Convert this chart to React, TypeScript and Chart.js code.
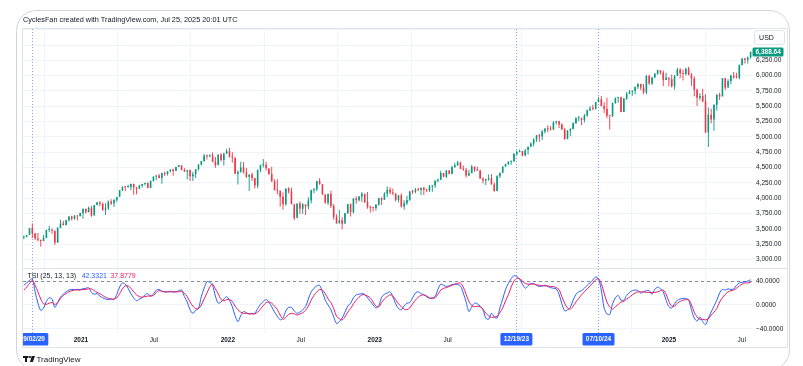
import React, { useEffect, useRef } from 'react';
import { Chart, registerables } from 'chart.js';

Chart.register(...registerables);

const FONT = "'Liberation Sans', Arial, sans-serif";
const GREEN = '#089981';
const RED = '#F23645';
const TSI_BLUE = '#2962FF';
const SIGNAL_RED = '#E91E63';

// Weekly bars, index 0 = week of 2020-08-10 (mid-week 2020-08-12)
const START_DATE = '2020-08-12';
const FIRST_OPEN = 3356;
const LAST_PRICE = 6388.64;
const TSI_LAST = '42.3321';
const SIGNAL_LAST = '37.8779';
const TSI_LEVEL = 40;

const close2020 = [3373, 3397, 3508, 3427, 3341, 3319, 3298, 3348, 3477, 3484, 3465, 3270, 3510, 3585, 3558, 3638, 3699, 3663, 3709, 3703, 3756];
const high2020 = [3387, 3399, 3510, 3588, 3425, 3428, 3320, 3397, 3482, 3549, 3502, 3466, 3529, 3646, 3628, 3644, 3699, 3712, 3726, 3711, 3760];
const low2020 = [3327, 3355, 3400, 3349, 3310, 3293, 3209, 3312, 3350, 3441, 3419, 3233, 3280, 3512, 3555, 3559, 3616, 3633, 3648, 3636, 3703];

const close2021 = [3825, 3768, 3841, 3714, 3887, 3934, 3907, 3811, 3842, 3943, 3913, 3975, 4020, 4129, 4185, 4180, 4181, 4232, 4174, 4156, 4204, 4230, 4247, 4166, 4281, 4352, 4370, 4327, 4412, 4395, 4437, 4468, 4442, 4509, 4535, 4459, 4433, 4455, 4357, 4391, 4471, 4545, 4605, 4697, 4683, 4698, 4595, 4538, 4712, 4621, 4725, 4766];
const high2021 = [3826, 3823, 3861, 3870, 3887, 3937, 3950, 3929, 3914, 3960, 3983, 3978, 4020, 4130, 4191, 4195, 4218, 4238, 4236, 4187, 4219, 4234, 4249, 4257, 4286, 4356, 4372, 4393, 4415, 4429, 4440, 4469, 4480, 4513, 4545, 4535, 4486, 4465, 4466, 4429, 4475, 4559, 4608, 4719, 4708, 4718, 4744, 4672, 4713, 4731, 4740, 4808];
const low2021 = [3663, 3750, 3783, 3694, 3725, 3884, 3865, 3789, 3723, 3805, 3886, 3853, 3935, 4035, 4118, 4118, 4170, 4127, 4056, 4061, 4149, 4168, 4205, 4165, 4164, 4272, 4290, 4325, 4233, 4360, 4368, 4422, 4367, 4452, 4513, 4457, 4427, 4306, 4278, 4278, 4329, 4453, 4537, 4595, 4630, 4672, 4585, 4495, 4540, 4600, 4531, 4733];

const close2022 = [4677, 4663, 4398, 4432, 4501, 4419, 4349, 4385, 4329, 4204, 4463, 4543, 4546, 4488, 4393, 4272, 4132, 4123, 4024, 3901, 4158, 4109, 3901, 3675, 3912, 3825, 3899, 3863, 3962, 4130, 4145, 4280, 4228, 4058, 3924, 4067, 3873, 3693, 3586, 3640, 3583, 3753, 3901, 3771, 3993, 3965, 4026, 4072, 3934, 3852, 3845, 3840];
const high2022 = [4819, 4749, 4632, 4453, 4596, 4590, 4490, 4385, 4417, 4329, 4465, 4546, 4637, 4593, 4471, 4513, 4308, 4307, 4082, 4090, 4158, 4178, 4168, 3838, 3913, 3946, 3919, 3871, 4013, 4140, 4167, 4281, 4325, 4204, 4062, 4077, 4119, 3907, 3736, 3806, 3686, 3762, 3905, 3912, 4001, 4028, 4034, 4101, 4052, 4101, 3876, 3846];
const low2022 = [4662, 4582, 4395, 4223, 4413, 4401, 4328, 4115, 4279, 4157, 4161, 4424, 4501, 4450, 4381, 4267, 4124, 4063, 3859, 3811, 3875, 4074, 3900, 3637, 3715, 3741, 3743, 3722, 3819, 3911, 4079, 4112, 4219, 4058, 3907, 3886, 3838, 3647, 3584, 3636, 3491, 3647, 3741, 3698, 3750, 3906, 3946, 3938, 3918, 3828, 3765, 3783];

const close2023 = [3895, 3999, 3973, 4071, 4136, 4090, 4079, 3970, 4045, 3862, 3917, 3971, 4109, 4105, 4138, 4133, 4169, 4136, 4124, 4192, 4205, 4282, 4299, 4410, 4348, 4450, 4399, 4505, 4536, 4582, 4478, 4464, 4370, 4406, 4516, 4457, 4450, 4320, 4288, 4308, 4327, 4224, 4117, 4358, 4415, 4514, 4559, 4595, 4604, 4719, 4755, 4770];
const high2023 = [3895, 4003, 4015, 4094, 4195, 4176, 4156, 4050, 4048, 4079, 3965, 4040, 4110, 4133, 4164, 4170, 4170, 4186, 4154, 4213, 4213, 4290, 4322, 4448, 4408, 4458, 4456, 4527, 4578, 4607, 4594, 4532, 4491, 4461, 4541, 4514, 4511, 4463, 4338, 4317, 4385, 4393, 4255, 4374, 4415, 4521, 4560, 4598, 4609, 4738, 4778, 4793];
const low2023 = [3794, 3877, 3886, 3973, 4015, 4061, 4048, 3944, 3928, 3847, 3809, 3889, 3951, 4068, 4080, 4113, 4050, 4049, 4099, 4098, 4103, 4166, 4257, 4301, 4341, 4328, 4385, 4389, 4502, 4528, 4474, 4448, 4336, 4356, 4416, 4430, 4447, 4316, 4238, 4216, 4283, 4223, 4104, 4113, 4329, 4412, 4513, 4537, 4546, 4593, 4695, 4751];

const close2024 = [4697, 4784, 4840, 4891, 4959, 5027, 5006, 5089, 5137, 5124, 5117, 5234, 5254, 5204, 5123, 4967, 5100, 5128, 5223, 5303, 5305, 5278, 5347, 5432, 5465, 5460, 5567, 5615, 5505, 5459, 5347, 5344, 5554, 5634, 5648, 5408, 5626, 5703, 5738, 5751, 5815, 5864, 5808, 5729, 5996, 5871, 5969, 6032, 6090, 6051, 5931, 5971, 5942];
const high2024 = [4755, 4798, 4842, 4907, 4976, 5030, 5048, 5111, 5141, 5189, 5179, 5261, 5264, 5263, 5222, 5150, 5114, 5140, 5239, 5325, 5342, 5315, 5376, 5447, 5506, 5524, 5570, 5655, 5670, 5566, 5639, 5345, 5563, 5643, 5651, 5651, 5636, 5733, 5768, 5763, 5822, 5878, 5870, 5863, 6012, 6018, 5973, 6045, 6099, 6078, 6085, 6050, 5950];
const low2024 = [4683, 4683, 4714, 4842, 4845, 4918, 4920, 4946, 5056, 5077, 5103, 5118, 5204, 5146, 5107, 4953, 4963, 5011, 5127, 5211, 5257, 5191, 5234, 5331, 5424, 5434, 5445, 5565, 5497, 5390, 5305, 5120, 5326, 5540, 5560, 5403, 5406, 5604, 5703, 5674, 5696, 5783, 5762, 5703, 5697, 5853, 5850, 5964, 6016, 6018, 5832, 5932, 5829];

const close2025 = [5827, 5997, 6101, 6041, 6026, 6115, 6013, 5955, 5770, 5639, 5668, 5581, 5074, 5363, 5283, 5525, 5686, 5660, 5958, 5803, 5912, 6000, 5977, 5967, 6173, 6279, 6260, 6297, 6388.64];
const high2025 = [6021, 6011, 6128, 6120, 6101, 6128, 6147, 6043, 5987, 5785, 5715, 5787, 5695, 5481, 5459, 5528, 5700, 5721, 5959, 5968, 5944, 6017, 6059, 6050, 6187, 6285, 6290, 6315, 6395];
const low2025 = [5809, 5773, 6008, 5962, 5923, 6004, 6009, 5837, 5666, 5505, 5597, 5572, 5069, 4835, 5221, 5101, 5433, 5603, 5786, 5767, 5842, 5861, 5952, 5953, 5943, 6167, 6201, 6201, 6281];

const closes = [...close2020, ...close2021, ...close2022, ...close2023, ...close2024, ...close2025];
const highs = [...high2020, ...high2021, ...high2022, ...high2023, ...high2024, ...high2025];
const lows = [...low2020, ...low2021, ...low2022, ...low2023, ...low2024, ...low2025];

// TSI (25, 13, 13), one reading per weekly bar
const tsiValues = [
  33, 37, 41, 44, 22, 3, -9, -5, 6, 12,
  10, -4, 4, 13, 18, 22, 25, 26, 26, 26,
  26, 27, 28, 29, 21, 18, 19, 15, 12, 10,
  9, 10, 9, 18, 30, 37, 35, 28, 19, 12,
  7, 10, 12, 17, 19, 15, 18, 25, 26, 23,
  22, 22, 23, 22, 22, 24, 25, 14, 5, -8,
  -14, -9, -6, 14, 28, 39, 38, 33, 15, 3,
  5, 10, 14, 8, -3, -18, -28, -18, -11, -13,
  -15, -14, -14, -6, 1, 6, 9, 5, -3, -12,
  -19, -25, -22, -10, -4, -4, -10, -14, -12, -8,
  -3, 10, 22, 28, 32, 33, 22, 8, 0, -8,
  -20, -31, -28, -22, -12, -2, 3, 12, 17, 18,
  19, 18, 12, 6, 0, -5, -2, 13, 18, 20,
  22, 14, 2, -6, -8, -2, 3, 4, 12, 20,
  22, 19, 17, 14, 11, 12, 14, 26, 35, 33,
  31, 32, 34, 35, 34, 32, 20, 5, -11, -3,
  3, 2, -2, -8, -22, -24, -14, -20, -22, -5,
  10, 26, 36, 44, 49, 48, 43, 35, 28, 32,
  36, 36, 33, 31, 32, 33, 31, 29, 28, 27,
  18, 2, -10, -8, -4, 8, 18, 22, 24, 28,
  33, 37, 42, 47, 44, 25, -5, -15, -16, 2,
  12, 16, 8, 8, 16, 21, 24, 25, 24, 20,
  22, 24, 24, 18, 26, 30, 27, 22, 8, -3,
  -5, 2, 8, 10, 11, 11, 8, -8, -22, -27,
  -20, -28, -33, -22, -12, -2, 8, 20, 26, 25,
  27, 26, 27, 33, 37, 38, 39, 40, 42.33,
];
const signalValues = [
  25, 30, 36, 41, 33, 22, 10, 2, 1, 3,
  4, 1, 4, 11, 16, 19, 22, 24, 25, 25,
  25, 26, 26, 27, 27, 24, 21, 19, 16, 13,
  11, 10, 10, 12, 19, 27, 32, 32, 28, 22,
  17, 14, 13, 14, 15, 15, 16, 21, 24, 23,
  22, 22, 22, 22, 22, 22, 23, 20, 14, 5,
  -2, -6, -6, 0, 10, 20, 30, 35, 27, 19,
  9, 7, 9, 9, 6, -2, -8, -12, -14, -14,
  -15, -15, -15, -12, -7, -1, 4, 5, 3, -2,
  -8, -17, -24, -21, -16, -14, -15, -17, -15, -13,
  -9, -2, 8, 16, 22, 26, 25, 19, 10, 4,
  -6, -19, -23, -25, -20, -12, -6, 2, 8, 13,
  17, 17, 15, 12, 5, -2, -3, 4, 10, 14,
  17, 15, 9, 2, -3, -7, -8, -5, 2, 8,
  13, 16, 17, 15, 12, 11, 12, 18, 25, 28,
  29, 31, 33, 35, 36, 37, 30, 18, 6, -1,
  -3, -2, -3, -7, -14, -18, -21, -20, -19, -13,
  -5, 7, 17, 30, 40, 45, 44, 40, 36, 35,
  35, 35, 34, 33, 32, 32, 32, 31, 31, 29,
  26, 14, 3, -5, -7, -2, 5, 11, 17, 22,
  27, 32, 37, 42, 44, 36, 20, 5, -3, -7,
  -3, 1, 5, 6, 10, 13, 17, 20, 22, 22,
  22, 21, 21, 21, 21, 22, 24, 25, 18, 6,
  -2, -2, 3, 6, 8, 9, 9, 0, -12, -20,
  -24, -24, -25, -23, -17, -12, -6, 5, 12, 18,
  22, 24, 25, 28, 32, 35, 37, 37, 37.88,
];

const timeTickDates = ['2021-01-01', '2021-07-01', '2022-01-01', '2022-07-01', '2023-01-01', '2023-07-01', '2024-07-01', '2025-01-01', '2025-07-01'];
const timeTickLabels = ['2021', 'Jul', '2022', 'Jul', '2023', 'Jul', '', '2025', 'Jul'];
const markerDates = ['2020-09-02', '2023-12-19', '2024-07-10'];
const markerLabels = ['09/02/20', '12/19/23', '07/10/24'];
const priceTicks = [3000, 3250, 3500, 3750, 4000, 4250, 4500, 4750, 5000, 5250, 5500, 5750, 6000, 6250, 6500, 6750];
const tsiTicks = [-40, 0, 40];

const weekIndex = (d: string) =>
  (Date.parse(d + 'T00:00:00Z') - Date.parse(START_DATE + 'T00:00:00Z')) / (7 * 86400000);

const timeTickIdx = timeTickDates.map(weekIndex);

function roundRect(ctx: CanvasRenderingContext2D, x: number, y: number, w: number, h: number, r: number) {
  ctx.beginPath();
  ctx.moveTo(x + r, y);
  ctx.lineTo(x + w - r, y);
  ctx.arcTo(x + w, y, x + w, y + r, r);
  ctx.lineTo(x + w, y + h - r);
  ctx.arcTo(x + w, y + h, x + w - r, y + h, r);
  ctx.lineTo(x + r, y + h);
  ctx.arcTo(x, y + h, x, y + h - r, r);
  ctx.lineTo(x, y + r);
  ctx.arcTo(x, y, x + r, y, r);
  ctx.closePath();
}

const decor = {
  id: 'decor',
  beforeDraw(chart: any) {
    const c = chart.ctx;
    c.save();
    c.fillStyle = '#ffffff';
    c.fillRect(0, 0, chart.width, chart.height);
    c.restore();
  },
  beforeDatasetsDraw(chart: any) {
    const { ctx, chartArea: a, scales } = chart;
    const x = scales.x;
    const y2 = scales.y2;
    ctx.save();
    const yl = Math.round(y2.getPixelForValue(TSI_LEVEL)) + 0.5;
    ctx.strokeStyle = '#868993';
    ctx.lineWidth = 1;
    ctx.setLineDash([3, 3]);
    ctx.beginPath();
    ctx.moveTo(a.left, yl);
    ctx.lineTo(a.right, yl);
    ctx.stroke();
    ctx.strokeStyle = 'rgba(41,98,255,0.6)';
    ctx.setLineDash([1, 2]);
    markerDates.forEach((d) => {
      const px = Math.round(x.getPixelForValue(weekIndex(d))) + 0.5;
      ctx.beginPath();
      ctx.moveTo(px, a.top);
      ctx.lineTo(px, a.bottom);
      ctx.stroke();
    });
    ctx.restore();
  },
  afterDraw(chart: any) {
    const { ctx, chartArea: a, scales } = chart;
    const x = scales.x;
    const y = scales.y;
    const y2 = scales.y2;
    ctx.save();
    ctx.setLineDash([]);
    ctx.lineWidth = 1;

    // pane separator and widget border
    ctx.strokeStyle = '#e0e3eb';
    const sep = Math.round(y.bottom) + 0.5;
    ctx.beginPath();
    ctx.moveTo(a.left, sep);
    ctx.lineTo(y.right, sep);
    ctx.stroke();
    ctx.strokeRect(Math.round(a.left) - 0.5, Math.round(a.top) - 0.5, Math.round(y.right - a.left), Math.round(x.bottom - a.top));

    // outer rounded frame
    ctx.strokeStyle = '#d1d4dc';
    roundRect(ctx, a.left - 6.5, 10.5, y.right - a.left + 8, chart.height + 4 - 10.5, 20);
    ctx.stroke();

    // title
    ctx.fillStyle = '#131722';
    ctx.font = `7.3px ${FONT}`;
    ctx.textBaseline = 'middle';
    ctx.textAlign = 'left';
    ctx.fillText('CyclesFan created with TradingView.com, Jul 25, 2025 20:01 UTC', a.left, 20);

    // TSI legend
    const ly = y2.top + 8.5;
    ctx.font = `7px ${FONT}`;
    let lx = a.left + 4.5;
    const t1 = 'TSI (25, 13, 13)';
    ctx.fillStyle = '#131722';
    ctx.fillText(t1, lx, ly);
    lx += ctx.measureText(t1).width + 5.5;
    ctx.fillStyle = TSI_BLUE;
    ctx.fillText(TSI_LAST, lx, ly);
    lx += ctx.measureText(TSI_LAST).width + 3.5;
    ctx.fillStyle = SIGNAL_RED;
    ctx.fillText(SIGNAL_LAST, lx, ly);

    // USD box
    ctx.fillStyle = '#ffffff';
    ctx.strokeStyle = '#e0e3eb';
    roundRect(ctx, y.left + 2.5, a.top + 1.5, 30, 14, 2);
    ctx.fill();
    ctx.stroke();
    ctx.fillStyle = '#131722';
    ctx.font = `7px ${FONT}`;
    ctx.textAlign = 'center';
    ctx.fillText('USD', y.left + 14.5, a.top + 9);

    // last price label
    const yp = y.getPixelForValue(LAST_PRICE);
    ctx.fillStyle = GREEN;
    roundRect(ctx, y.left + 0.5, yp - 4.5, 31, 9, 1.5);
    ctx.fill();
    ctx.fillStyle = '#ffffff';
    ctx.font = `bold 6.5px ${FONT}`;
    ctx.textAlign = 'left';
    ctx.fillText(LAST_PRICE.toLocaleString('en-US', { minimumFractionDigits: 2, maximumFractionDigits: 2 }), y.left + 3.5, yp + 0.3);

    // marker date boxes
    ctx.save();
    ctx.beginPath();
    ctx.rect(a.left, x.top - 2, y.right - a.left, 20);
    ctx.clip();
    markerDates.forEach((d, k) => {
      const px = x.getPixelForValue(weekIndex(d));
      ctx.fillStyle = TSI_BLUE;
      roundRect(ctx, px - 16, x.top, 32, 12.5, 1.5);
      ctx.fill();
      ctx.fillStyle = '#ffffff';
      ctx.font = `bold 6.5px ${FONT}`;
      ctx.textAlign = 'center';
      ctx.fillText(markerLabels[k], px, x.top + 6.5);
    });
    ctx.restore();

    // TradingView logo
    const bx = a.left;
    const by = 359;
    ctx.fillStyle = '#131722';
    ctx.fillRect(bx, by - 3, 5.5, 2);
    ctx.fillRect(bx + 2, by - 3, 2, 6);
    ctx.beginPath();
    ctx.arc(bx + 7, by - 2, 1.1, 0, Math.PI * 2);
    ctx.fill();
    ctx.beginPath();
    ctx.moveTo(bx + 8.7, by - 3);
    ctx.lineTo(bx + 12, by - 3);
    ctx.lineTo(bx + 9.8, by + 3);
    ctx.lineTo(bx + 7, by + 3);
    ctx.closePath();
    ctx.fill();
    ctx.font = `8px ${FONT}`;
    ctx.textAlign = 'left';
    ctx.fillText('TradingView', bx + 13.5, by + 0.3);

    ctx.restore();
  },
};

export default function App() {
  const ref = useRef<HTMLCanvasElement>(null);

  useEffect(() => {
    if (!ref.current) return;
    const opens = closes.map((c, i) => (i === 0 ? FIRST_OPEN : closes[i - 1]));
    const colors = closes.map((c, i) => (c >= opens[i] ? GREEN : RED));

    const chart = new Chart(ref.current, {
      type: 'bar',
      data: {
        datasets: [
          {
            type: 'bar',
            label: 'wick',
            data: closes.map((c, i) => ({ x: i, y: [lows[i], highs[i]] })) as any,
            backgroundColor: colors,
            barThickness: 0.9,
            inflateAmount: 0,
            grouped: false,
            yAxisID: 'y',
            order: 3,
          } as any,
          {
            type: 'bar',
            label: 'body',
            data: closes.map((c, i) => ({ x: i, y: [opens[i], c] })) as any,
            backgroundColor: colors,
            barThickness: 1.6,
            inflateAmount: 0,
            minBarLength: 1,
            grouped: false,
            yAxisID: 'y',
            order: 2,
          } as any,
          {
            type: 'line',
            label: 'TSI',
            data: tsiValues.map((v, i) => ({ x: i, y: v })),
            borderColor: TSI_BLUE,
            borderWidth: 1,
            pointRadius: 0,
            tension: 0.3,
            yAxisID: 'y2',
            order: 1,
          } as any,
          {
            type: 'line',
            label: 'Signal',
            data: signalValues.map((v, i) => ({ x: i, y: v })),
            borderColor: SIGNAL_RED,
            borderWidth: 1,
            pointRadius: 0,
            tension: 0.3,
            yAxisID: 'y2',
            order: 0,
          } as any,
        ],
      },
      options: {
        responsive: false,
        animation: false,
        devicePixelRatio: 1,
        layout: { padding: { left: 23, top: 29, right: 15, bottom: 18 } },
        plugins: { legend: { display: false }, tooltip: { enabled: false }, title: { display: false } },
        events: [],
        scales: {
          x: {
            type: 'linear',
            min: -0.3,
            max: 258.5,
            offset: false,
            afterBuildTicks: (s: any) => {
              s.ticks = timeTickIdx.map((v) => ({ value: v }));
            },
            afterFit: (s: any) => {
              s.height = 15;
            },
            ticks: {
              autoSkip: false,
              maxRotation: 0,
              padding: 3,
              color: '#131722',
              font: (ctx: any) => ({
                family: FONT,
                size: 6.5,
                weight: ctx.tick && /^\d{4}$/.test(String(ctx.tick.label)) ? 'bold' : 'normal',
              }),
              callback: (value: any) => {
                const k = timeTickIdx.findIndex((t) => Math.abs(t - Number(value)) < 1e-6);
                return k >= 0 ? timeTickLabels[k] : '';
              },
            },
            grid: { color: '#f0f3fa', drawTicks: false },
            border: { display: false },
          },
          y: {
            type: 'linear',
            position: 'right',
            stack: 'panes',
            stackWeight: 239,
            min: 2858,
            max: 6763,
            afterBuildTicks: (s: any) => {
              s.ticks = priceTicks.map((v) => ({ value: v }));
            },
            afterFit: (s: any) => {
              s.width = 36;
            },
            ticks: {
              autoSkip: false,
              padding: 4,
              color: '#131722',
              font: { family: FONT, size: 6.5 },
              callback: (v: any) =>
                Number(v) > 6250 ? '' : Number(v).toLocaleString('en-US', { minimumFractionDigits: 2, maximumFractionDigits: 2 }),
            },
            grid: { color: '#f0f3fa', drawTicks: false },
            border: { display: false },
          },
          y2: {
            type: 'linear',
            position: 'right',
            stack: 'panes',
            stackWeight: 65,
            min: -47,
            max: 62,
            afterBuildTicks: (s: any) => {
              s.ticks = tsiTicks.map((v) => ({ value: v }));
            },
            afterFit: (s: any) => {
              s.width = 36;
            },
            ticks: {
              autoSkip: false,
              padding: 4,
              color: '#131722',
              font: { family: FONT, size: 6.5 },
              callback: (v: any) => Number(v).toFixed(4).replace('-', '\u2212'),
            },
            grid: { color: '#f0f3fa', drawTicks: false },
            border: { display: false },
          },
        },
      } as any,
      plugins: [decor],
    });
    return () => chart.destroy();
  }, []);

  return (
    <div style={{ position: 'fixed', left: 0, top: 0, width: 803, height: 366, background: '#ffffff' }}>
      <canvas ref={ref} width={803} height={366} style={{ display: 'block', width: 803, height: 366 }} />
    </div>
  );
}
